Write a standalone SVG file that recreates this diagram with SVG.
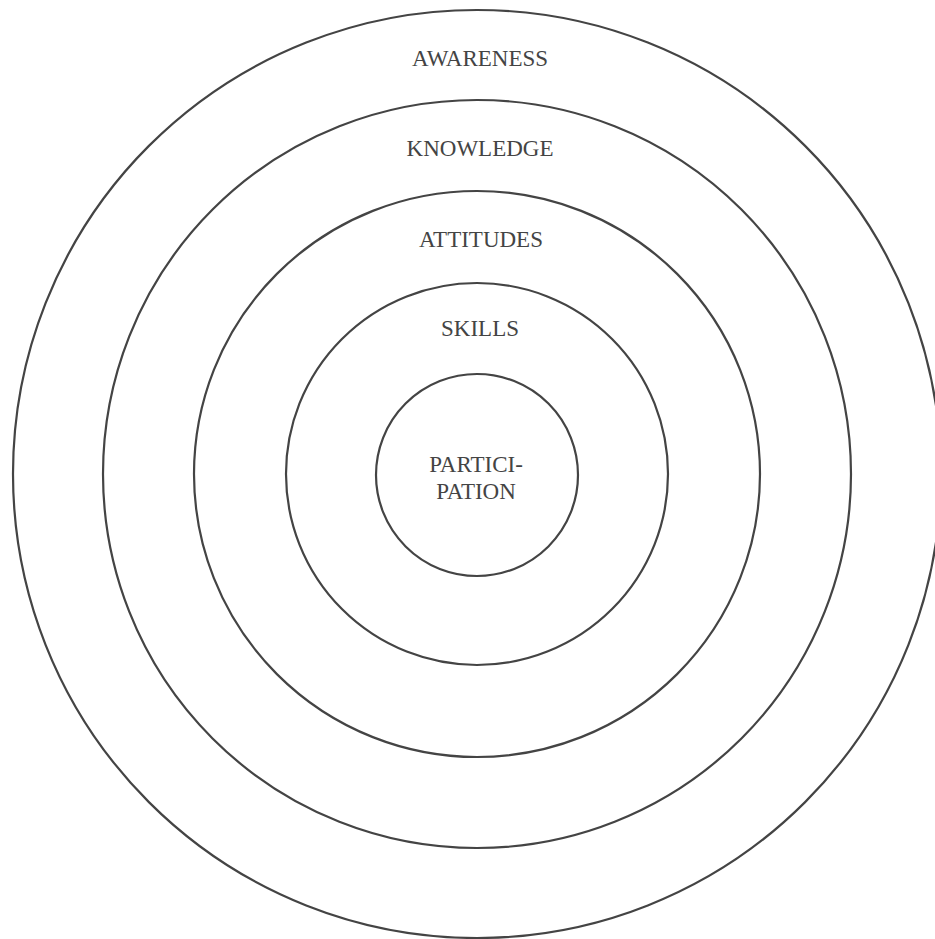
<svg xmlns="http://www.w3.org/2000/svg" width="935" height="939" viewBox="0 0 935 939">
<style>
.ring{fill:none;stroke:#444;stroke-width:2.2}
.lbl{font-family:"Liberation Serif","Times New Roman",serif;font-size:23px;fill:#444;text-anchor:middle}
</style>
<rect width="935" height="939" fill="#fff"/>
<g id="awareness"><circle class="ring" cx="477" cy="474" r="464"/><text class="lbl" x="480" y="66">AWARENESS</text></g>
<g id="knowledge"><circle class="ring" cx="477" cy="474" r="374"/><text class="lbl" x="480" y="156">KNOWLEDGE</text></g>
<g id="attitudes"><circle class="ring" cx="477" cy="474" r="283"/><text class="lbl" x="481" y="247">ATTITUDES</text></g>
<g id="skills"><circle class="ring" cx="477" cy="474" r="191"/><text class="lbl" x="480" y="336">SKILLS</text></g>
<g id="participation"><circle class="ring" cx="477" cy="475" r="101"/><text class="lbl" x="476" y="472">PARTICI-</text><text class="lbl" x="476" y="499">PATION</text></g>
<g id="connectors"/>
</svg>
